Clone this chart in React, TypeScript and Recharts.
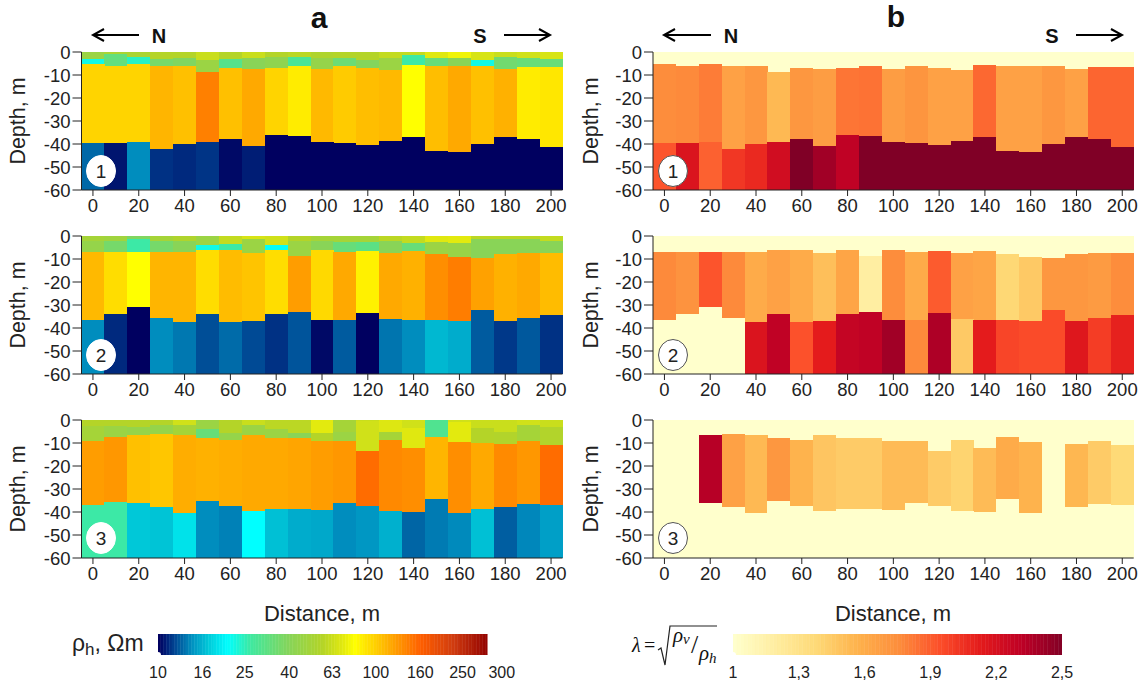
import React from "react";
import { BarChart, Bar, Cell, XAxis, YAxis, ComposedChart, ReferenceArea, Line } from "recharts";

const distances = [0, 10, 20, 30, 40, 50, 60, 70, 80, 90, 100, 110, 120, 130, 140, 150, 160, 170, 180, 190, 200];
const depthTicks = [0, -10, -20, -30, -40, -50, -60];

// Section 1: layer bottoms, m
const s1Base1 = [-3, -1, -2, -3, -2.5, -3.5, -3, -2.5, -2, -2, -2.5, -2.5, -3.5, -2.5, -1.5, -2.5, -2.5, -3.5, -2, -2.5, -3];
const s1Base2 = [-5, -6, -5, -6, -6, -8.5, -7, -7.5, -7, -6, -7.5, -6, -7, -8, -5.5, -6, -6, -6, -7.5, -6.5, -6.5];
const s1Base3 = [-39.5, -39.5, -39, -42, -40, -39, -38, -41, -36, -36.5, -39, -39.5, -40.5, -38.5, -37, -43, -43.5, -40, -37, -38, -41.5];
// Section 1: apparent resistivity, Ohm m
const s1Rho1 = [46, 52, 52, 56, 56, 62, 56, 62, 56, 58, 54, 56, 56, 60, 60, 69, 74, 66, 62, 64, 66];
const s1Rho2 = [22, 32, 24, 36, 38, 46, 30, 40, 42, 28, 44, 34, 39, 46, 26, 33, 40, 22, 35, 33, 33];
const s1Rho3 = [96, 96, 96, 110, 105, 138, 105, 116, 96, 86, 108, 100, 106, 108, 79, 106, 116, 105, 112, 86, 88];
const s1Rho4 = [12.8, 10.5, 14, 11.2, 11, 11.3, 10.2, 10.7, 10, 10, 10, 10, 10, 10, 10, 10, 10, 10, 10, 10, 10];
// Section 1: anisotropy
const s1Lam3 = [1.75, 1.76, 1.8, 1.65, 1.7, 1.53, 1.7, 1.67, 1.82, 1.83, 1.67, 1.71, 1.65, 1.65, 1.86, 1.65, 1.65, 1.7, 1.65, 1.87, 1.87];
const s1Lam4 = [1.92, 2.17, 1.88, 2.02, 2.07, 2.22, 2.5, 2.4, 2.3, 2.5, 2.5, 2.5, 2.5, 2.5, 2.5, 2.5, 2.5, 2.5, 2.5, 2.5, 2.5];

// Section 2
const s2Base1 = [-2, -2, -1.5, -2, -2, -4, -3.5, -1.5, -4, -2, -2, -2.5, -2.5, -2, -3, -2.5, -3, -1.5, -1.5, -1.5, -2];
const s2Base2 = [-7, -7, -7, -7, -7, -6, -6, -7.5, -6, -8.5, -6, -7, -6.5, -7.5, -6.5, -8, -9, -9.5, -8, -7.5, -7.5];
const s2Base3 = [-36.5, -34, -31, -35.5, -37.5, -34, -37.5, -37, -34, -33, -36.5, -36.5, -33.5, -36, -36.5, -36.5, -37, -32, -37, -35.5, -34.5];
const s2Rho1 = [50, 48, 38, 50, 54, 46, 60, 66, 64, 56, 50, 50, 50, 58, 60, 69, 70, 58, 58, 58, 60];
const s2Rho2 = [44, 36, 26, 36, 40, 22, 26, 46, 21, 46, 40, 33, 31, 40, 33, 46, 45, 40, 40, 40, 40];
const s2Rho3 = [108, 92, 79, 110, 110, 92, 107, 103, 92, 122, 94, 116, 84, 116, 112, 130, 140, 120, 112, 116, 107];
const s2Rho4 = [14, 11, 10, 14, 13.3, 12, 12.9, 11.9, 11.2, 12.2, 10.2, 12.4, 10, 13.2, 14, 16, 15.4, 12.4, 11.4, 12.3, 11.2];
const s2Lam3 = [1.76, 1.72, 1.92, 1.76, 1.6, 1.65, 1.6, 1.5, 1.63, 1.18, 1.75, 1.6, 1.9, 1.65, 1.63, 1.38, 1.45, 1.7, 1.7, 1.68, 1.75];
const s2Lam4 = [1, 1, 1, 1, 2.17, 2.3, 1.93, 2.12, 2.28, 2.3, 2.4, 1.76, 2.36, 1.45, 2.12, 1.97, 1.95, 1.95, 2.15, 2, 2.1];

// Section 3
const s3Base1 = [-2.5, -2.5, -3, -2, -2, -4, -5.5, -2, -4, -5.5, -5.5, -5, -0.5, -5, -3.5, -3.5, -1, -3.5, -5, -2, -3];
const s3Base2 = [-9, -7.5, -6.5, -6, -6.5, -8, -8.5, -6.5, -8, -8, -9, -9, -13.5, -8.5, -12, -7.5, -9.5, -10, -10.5, -9, -11];
const s3Base3 = [-37, -35.5, -36, -38, -40.5, -35, -37.5, -39.5, -38.5, -38.5, -39, -36, -37.5, -39.5, -40, -34.5, -40.5, -38.5, -38, -36.5, -37];
const s3Rho1 = [56, 56, 56, 56, 64, 46, 56, 62, 58, 58, 70, 50, 62, 68, 64, 29, 64, 62, 62, 64, 62];
const s3Rho2 = [50, 46, 44, 44, 50, 33, 44, 46, 46, 40, 56, 46, 64, 50, 69, 29, 70, 56, 55, 50, 55];
const s3Rho3 = [122, 125, 105, 102, 114, 112, 114, 116, 116, 118, 122, 125, 150, 133, 130, 110, 130, 116, 132, 125, 150];
const s3Rho4 = [26, 26, 16.8, 16.6, 18.5, 14, 13.6, 20.6, 16.4, 15.4, 15.2, 14, 14.4, 15.6, 12.7, 13.4, 13.9, 16.4, 12.5, 13.8, 14.8];
const s3Lam3 = [1, 1, 2.33, 1.65, 1.53, 1.7, 1.56, 1.47, 1.44, 1.44, 1.52, 1.52, 1.44, 1.4, 1.52, 1.6, 1.56, 1, 1.54, 1.44, 1.37];
const s3Lam4 = [1, 1, 1, 1, 1, 1, 1, 1, 1, 1, 1, 1, 1, 1, 1, 1, 1, 1, 1, 1, 1];

const rhoTicks = [10, 16, 25, 40, 63, 100, 160, 250, 300];
const lambdaTicks = [1, 1.3, 1.6, 1.9, 2.2, 2.5];

const rhoStops: [number, string][] = [
  [10, "#000060"], [11.5, "#003c8c"], [14.1, "#0090c0"], [16.8, "#00c8d8"], [20.6, "#00ffff"],
  [26.4, "#40e8a0"], [39.8, "#88d458"], [56, "#b4d428"], [69, "#e0e810"], [79, "#ffff00"],
  [105, "#ffc000"], [138, "#ff8000"], [158, "#ff6000"], [224, "#d03c10"], [326, "#900000"],
];
const lambdaStops: [number, string][] = [
  [1, "#ffffcc"], [1.1875, "#ffeda0"], [1.375, "#fed976"], [1.5625, "#feb24c"], [1.75, "#fd8d3c"],
  [1.9375, "#fc4e2a"], [2.125, "#e31a1c"], [2.3125, "#bd0026"], [2.5, "#800026"],
];

const hex = (c: string) => [1, 3, 5].map((i) => parseInt(c.slice(i, i + 2), 16));
function ramp(stops: [number, string][], v: number, log: boolean) {
  const f = (x: number) => (log ? Math.log(x) : x);
  if (v <= stops[0][0]) return stops[0][1];
  for (let i = 1; i < stops.length; i++) {
    if (v <= stops[i][0]) {
      const t = (f(v) - f(stops[i - 1][0])) / (f(stops[i][0]) - f(stops[i - 1][0]));
      const a = hex(stops[i - 1][1]);
      const b = hex(stops[i][1]);
      return `rgb(${a.map((p, k) => Math.round(p + (b[k] - p) * t)).join(",")})`;
    }
  }
  return stops[stops.length - 1][1];
}
const rhoColor = (v: number) => ramp(rhoStops, v, true);
const lamColor = (v: number) => ramp(lambdaStops, v, false);

const FONT = "'Liberation Sans', Arial, sans-serif";
const INK = "#222";
const PLOT_H = 138;
const TOP = 12;
const X_AXIS_H = 44;

type Layer = { thick: number[]; colors: string[] };

function Section({ layers, left, top, yWidth, right }: { layers: Layer[]; left: number; top: number; yWidth: number; right: number }) {
  const data = distances.map((d, i) => {
    const row: Record<string, number> = { distance: d };
    layers.forEach((l, k) => { row[`l${k}`] = l.thick[i]; });
    return row;
  });
  return (
    <div style={{ position: "absolute", left, top: top - TOP }}>
      <BarChart width={573} height={TOP + PLOT_H + X_AXIS_H} data={data} barCategoryGap={0} barGap={0}
        margin={{ top: TOP, right, bottom: 0, left: 0 }}>
        <XAxis dataKey="distance" interval={1} height={X_AXIS_H} tickSize={6} tickMargin={3}
          tick={{ fontSize: 18.5, fontFamily: FONT, fill: INK }} stroke={INK} />
        <YAxis type="number" domain={[-60, 0]} ticks={depthTicks} interval={0} width={yWidth} tickSize={9} tickMargin={2}
          tick={{ fontSize: 18.5, fontFamily: FONT, fill: INK }} stroke={INK}
          label={{ value: "Depth, m", angle: -90, position: "insideLeft", offset: 17, textAnchor: "middle",
            style: { fontSize: 21.5, fontFamily: FONT, fill: INK, textAnchor: "middle" } }} />
        <XAxis xAxisId="frame" orientation="top" height={0} tick={false} tickLine={false} stroke={INK} />
        <YAxis yAxisId="frame" orientation="right" width={0} tick={false} tickLine={false} stroke={INK} />
        {layers.map((l, k) => (
          <Bar key={k} dataKey={`l${k}`} stackId="col" isAnimationActive={false}>
            {l.colors.map((c, i) => <Cell key={i} fill={c} shapeRendering="crispEdges" />)}
          </Bar>
        ))}
      </BarChart>
    </div>
  );
}

function thicknesses(b1: number[], b2: number[], b3: number[]) {
  return [b1, b2.map((v, i) => v - b1[i]), b3.map((v, i) => v - b2[i]), b3.map((v) => -60 - v)];
}

function rhoLayers(b1: number[], b2: number[], b3: number[], r: number[][]): Layer[] {
  return thicknesses(b1, b2, b3).map((thick, k) => ({ thick, colors: r[k].map(rhoColor) }));
}
function lamLayers(b1: number[], b2: number[], b3: number[], l3: number[], l4: number[]): Layer[] {
  const t = thicknesses(b1, b2, b3);
  return [
    { thick: b2, colors: b2.map(() => lamColor(1)) },
    { thick: t[2], colors: l3.map(lamColor) },
    { thick: t[3], colors: l4.map(lamColor) },
  ];
}

const RhoTick = (props: any) => {
  const { x, y, payload } = props;
  const shift = payload.value === 300 ? 22 : 0;
  return <text x={x + shift} y={y + 14.5} textAnchor="middle" fontSize={16} fontFamily={FONT} fill={INK}>{payload.value}</text>;
};

function RhoBar() {
  const bands: number[] = [];
  for (let v = 10; v < 326; v *= 1.03) bands.push(v);
  return (
    <div style={{ position: "absolute", left: 130, top: 630 }}>
      <ComposedChart width={400} height={54} data={[{ a: rhoTicks[0], y: 0 }]} margin={{ top: 4, right: 42.4, bottom: 0, left: 28 }}>
        <XAxis type="number" dataKey="a" scale="log" domain={[10, 326]} ticks={rhoTicks} interval={0} height={29}
          axisLine={false} tickLine={false} tick={<RhoTick />} allowDataOverflow />
        <YAxis type="number" domain={[0, 1]} hide />
        <Line dataKey="y" stroke="none" dot={false} isAnimationActive={false} />
        {bands.map((v, i) => (
          <ReferenceArea key={i} x1={v} x2={Math.min(v * 1.03, 326)} y1={0} y2={1} fill={rhoColor(v)} stroke={rhoColor(v)} strokeWidth={0.5} fillOpacity={1} ifOverflow="hidden" />
        ))}
      </ComposedChart>
    </div>
  );
}

const LamTick = (props: any) => {
  const { x, y, payload } = props;
  return <text x={x} y={y + 14.5} textAnchor="middle" fontSize={16} fontFamily={FONT} fill={INK}>{String(payload.value).replace(".", ",")}</text>;
};

function LambdaBar() {
  const bands: number[] = [];
  for (let i = 0; i < 90; i++) bands.push(1 + (i * 1.5) / 90);
  return (
    <div style={{ position: "absolute", left: 705, top: 630 }}>
      <ComposedChart width={400} height={54} data={[{ a: 1, y: 0 }]} margin={{ top: 4, right: 43, bottom: 0, left: 28 }}>
        <XAxis type="number" dataKey="a" domain={[1, 2.5]} ticks={lambdaTicks} interval={0} height={29}
          axisLine={false} tickLine={false} allowDecimals tick={<LamTick />} />
        <YAxis type="number" domain={[0, 1]} hide />
        <Line dataKey="y" stroke="none" dot={false} isAnimationActive={false} />
        {bands.map((v, i) => (
          <ReferenceArea key={i} x1={v} x2={v + 1.5 / 90} y1={0} y2={1} fill={lamColor(v)} stroke={lamColor(v)} strokeWidth={0.5} fillOpacity={1} ifOverflow="hidden" />
        ))}
      </ComposedChart>
    </div>
  );
}

const Arrow = ({ x1, x2, y }: { x1: number; x2: number; y: number }) => {
  const d = x2 > x1 ? -1 : 1;
  return (
    <g stroke="#000" fill="none" strokeWidth={2}>
      <line x1={x1} x2={x2} y1={y} y2={y} />
      <polyline points={`${x2 + d * 11},${y - 6} ${x2},${y} ${x2 + d * 11},${y + 6}`} />
    </g>
  );
};

const Badge = ({ cx, cy, n, edge }: { cx: number; cy: number; n: string; edge: string }) => (
  <g>
    <ellipse cx={cx} cy={cy} rx={14.5} ry={15.5} fill="#fff" stroke={edge} strokeWidth={1} />
    <text x={cx} y={cy + 7} textAnchor="middle" fontSize={19} fontFamily={FONT} fill={INK}>{n}</text>
  </g>
);

function Overlay() {
  const rowsY = [171, 355, 538];
  return (
    <svg width={1146} height={684} style={{ position: "absolute", left: 0, top: 0, pointerEvents: "none" }}>
      <g fontFamily={FONT} fill="#111">
        <text x={319} y={28} textAnchor="middle" fontSize={30} fontWeight="bold">a</text>
        <text x={896} y={27} textAnchor="middle" fontSize={30} fontWeight="bold">b</text>
        <text x={159} y={43} textAnchor="middle" fontSize={20} fontWeight="bold">N</text>
        <text x={480} y={43} textAnchor="middle" fontSize={20} fontWeight="bold">S</text>
        <text x={731} y={43} textAnchor="middle" fontSize={20} fontWeight="bold">N</text>
        <text x={1052} y={43} textAnchor="middle" fontSize={20} fontWeight="bold">S</text>
        <text x={322} y={621} textAnchor="middle" fontSize={22} fill={INK}>Distance, m</text>
        <text x={893} y={621} textAnchor="middle" fontSize={22} fill={INK}>Distance, m</text>
      </g>
      <Arrow x1={139} x2={93} y={35} />
      <Arrow x1={504} x2={550} y={35} />
      <Arrow x1={711} x2={664} y={35} />
      <Arrow x1={1076} x2={1122} y={35} />
      {rowsY.map((y, i) => (
        <g key={i}>
          <Badge cx={101} cy={y} n={String(i + 1)} edge="#fff" />
          <Badge cx={673} cy={y} n={String(i + 1)} edge="#555" />
        </g>
      ))}
      <text x={72} y={651} fontFamily={FONT} fontSize={23} fill={INK}>
        ρ<tspan fontSize={17} dy={4}>h</tspan><tspan dy={-4}>, Ωm</tspan>
      </text>
      <g fontFamily="'Liberation Serif', serif" fill="#111" fontStyle="italic">
        <text x={632} y={652} fontSize={20}>λ</text>
        <text x={644} y={652} fontSize={20} fontStyle="normal">=</text>
        <polyline points="658,650 661,648 665,665 670,626 717,626" fill="none" stroke="#222" strokeWidth={1.2} />
        <text x={673} y={642} fontSize={21}>ρ<tspan fontSize={15} dy={2}>v</tspan></text>
        <text x={691} y={653} fontSize={26} fontStyle="normal">/</text>
        <text x={699} y={660} fontSize={21}>ρ<tspan fontSize={15} dy={3}>h</tspan></text>
      </g>
    </svg>
  );
}

export default function App() {
  const sets = [
    { top: 52.3, b: [s1Base1, s1Base2, s1Base3], r: [s1Rho1, s1Rho2, s1Rho3, s1Rho4], l3: s1Lam3, l4: s1Lam4 },
    { top: 236, b: [s2Base1, s2Base2, s2Base3], r: [s2Rho1, s2Rho2, s2Rho3, s2Rho4], l3: s2Lam3, l4: s2Lam4 },
    { top: 420, b: [s3Base1, s3Base2, s3Base3], r: [s3Rho1, s3Rho2, s3Rho3, s3Rho4], l3: s3Lam3, l4: s3Lam4 },
  ];
  return (
    <div style={{ position: "absolute", left: 0, top: 0, width: 1146, height: 684, background: "#fff", overflow: "hidden" }}>
      {sets.map((s, i) => (
        <React.Fragment key={i}>
          <Section layers={rhoLayers(s.b[0], s.b[1], s.b[2], s.r)} left={0} top={s.top} yWidth={81.5} right={10.5} />
          <Section layers={lamLayers(s.b[0], s.b[1], s.b[2], s.l3, s.l4)} left={573} top={s.top} yWidth={80} right={12.3} />
        </React.Fragment>
      ))}
      <RhoBar />
      <LambdaBar />
      <Overlay />
    </div>
  );
}
